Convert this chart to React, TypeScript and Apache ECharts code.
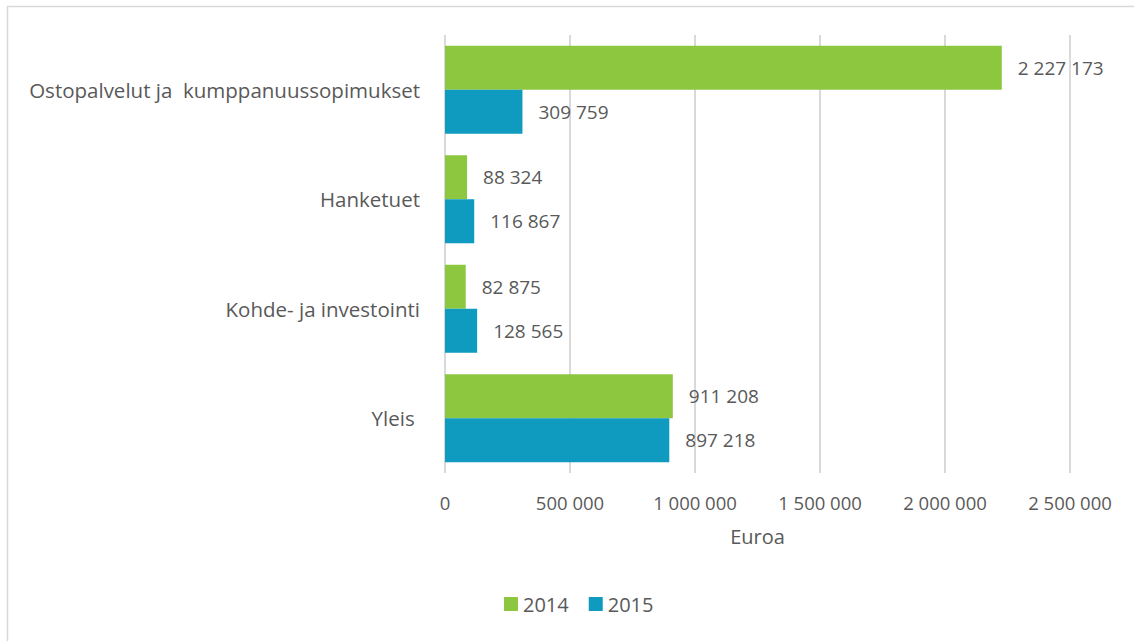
import React, { useEffect, useRef } from "react";
import * as echarts from "echarts";

const categories = ["Ostopalvelut ja  kumppanuussopimukset", "Hanketuet", "Kohde- ja investointi", "Yleis "];
const series2014 = [2227173, 88324, 82875, 911208];
const series2015 = [309759, 116867, 128565, 897218];
const seriesNames = ["2014", "2015"];
const axisName = "Euroa";

const fmt = (v: number) => String(Math.round(v)).replace(/\B(?=(\d{3})+(?!\d))/g, " ");

const FONT = "'Open Sans', sans-serif";
const TXT = "#595959";

export default function App() {
  const ref = useRef<HTMLDivElement>(null);
  useEffect(() => {
    if (!ref.current) return;
    const chart = echarts.init(ref.current, undefined, { renderer: "svg" });
    const label = {
      show: true,
      position: "right" as const,
      distance: 16,
      color: TXT,
      fontFamily: FONT,
      fontSize: 19,
      formatter: (p: any) => fmt(p.value),
    };
    chart.setOption({
      animation: false,
      textStyle: { fontFamily: FONT },
      graphic: [
        {
          type: "rect",
          shape: { x: 7.5, y: 6.5, width: 1300, height: 800 },
          style: { fill: "none", stroke: "#d9d9d9", lineWidth: 1.5 },
          silent: true,
        },
      ],
      grid: { left: 445, right: 64, top: 35, bottom: 168 },
      legend: {
        bottom: 22,
        left: 499,
        itemWidth: 14,
        itemHeight: 14,
        itemGap: 20,
        icon: "rect",
        textStyle: { color: TXT, fontSize: 20, fontFamily: FONT },
        data: seriesNames,
      },
      xAxis: {
        type: "value",
        min: 0,
        max: 2500000,
        interval: 500000,
        name: axisName,
        nameLocation: "middle",
        nameGap: 53,
        nameTextStyle: { color: TXT, fontSize: 20, fontFamily: FONT },
        axisLine: { show: false },
        axisTick: { show: false },
        axisLabel: { color: TXT, fontSize: 18.5, fontFamily: FONT, margin: 20, formatter: (v: number) => fmt(v) },
        splitLine: { lineStyle: { color: "#d9d9d9", width: 2 } },
      },
      yAxis: {
        type: "category",
        data: categories,
        inverse: true,
        axisLine: { show: false },
        axisTick: { show: false },
        axisLabel: { color: TXT, fontSize: 20.5, fontFamily: FONT, margin: 25 },
      },
      series: [
        {
          name: seriesNames[0],
          type: "bar",
          data: series2014,
          barWidth: 44,
          barGap: "0%",
          itemStyle: { color: "#8DC63F" },
          label,
        },
        {
          name: seriesNames[1],
          type: "bar",
          data: series2015,
          barWidth: 44,
          barGap: "0%",
          itemStyle: { color: "#0E9BBF" },
          label,
        },
      ],
    });
    return () => chart.dispose();
  }, []);
  return (
    <div style={{ position: "fixed", left: 0, top: 0, width: 1134, height: 641, background: "#fff" }}>
      <div ref={ref} style={{ width: 1134, height: 641 }} />
    </div>
  );
}
